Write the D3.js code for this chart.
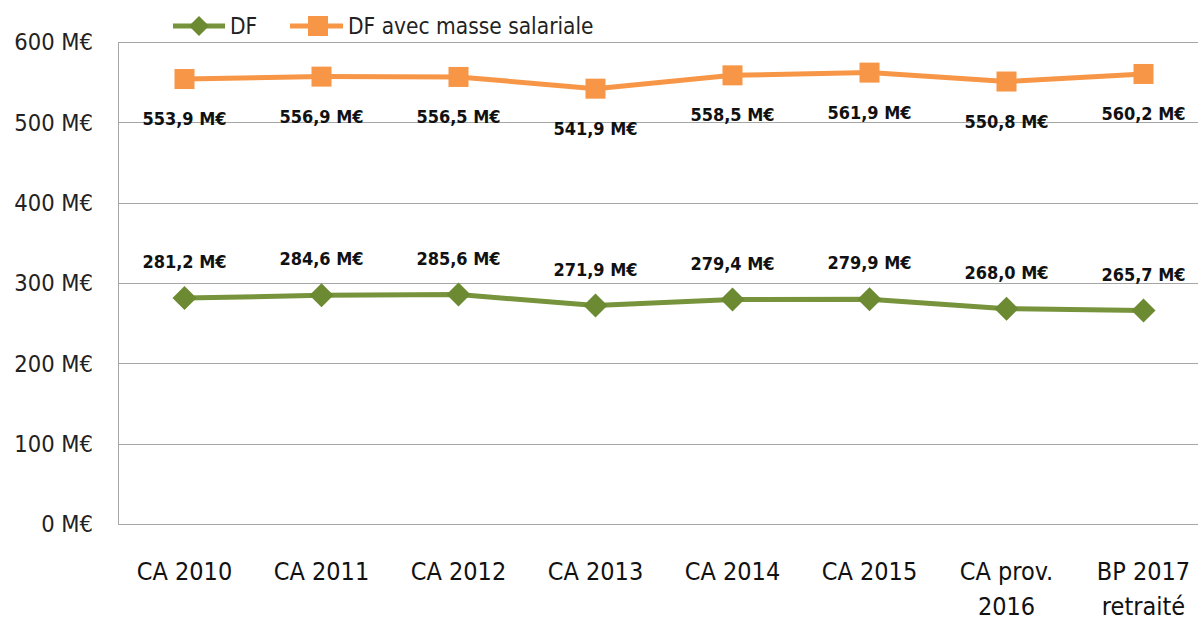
<!DOCTYPE html>
<html>
  <head>
    <meta charset="utf-8" />
    <title>DF</title>
    <script src="https://d3js.org/d3.v7.min.js"></script>
    <style>
      body {
        margin: 0;
        background: #fff;
      }
      svg {
        font-family: "Liberation Sans Narrow", "DejaVu Sans Condensed", sans-serif;
      }
      .grid line {
        stroke: #a6a6a6;
        stroke-width: 1;
        shape-rendering: crispEdges;
      }
      .grid path {
        display: none;
      }
    </style>
  </head>
  <body>
    <div id="chart"></div>
    <script>
      //categories and values
      const categories = ["CA 2010", "CA 2011", "CA 2012", "CA 2013", "CA 2014", "CA 2015", "CA prov.|2016", "BP 2017|retraité"];
      const dfValues = [281.2, 284.6, 285.6, 271.9, 279.4, 279.9, 268.0, 265.7];
      const masseValues = [553.9, 556.9, 556.5, 541.9, 558.5, 561.9, 550.8, 560.2];
      const yTicks = [0, 100, 200, 300, 400, 500, 600];

      const width = 1198;
      const height = 621;
      const green = "#77933c";
      const greenDark = "#6b8a31";
      const orange = "#f79646";

      const fmt = (v) => v.toFixed(1).replace(".", ",") + " M€";

      const svg = d3
        .select("#chart")
        .append("svg")
        .attr("width", width)
        .attr("height", height);

      const x = d3.scaleBand().domain(categories).range([116, 1212]);
      const y = d3.scaleLinear().domain([0, 600]).range([524, 42]);

      //horizontal gridlines
      svg
        .append("g")
        .attr("class", "grid")
        .attr("transform", "translate(118,0)")
        .call(d3.axisLeft(y).tickValues(yTicks).tickSize(-1100).tickFormat(""));

      //left axis line
      svg
        .append("line")
        .attr("x1", 118.5)
        .attr("x2", 118.5)
        .attr("y1", y(600))
        .attr("y2", y(0))
        .attr("stroke", "#a6a6a6");

      //y tick labels
      svg
        .selectAll(".ylab")
        .data(yTicks)
        .join("text")
        .attr("class", "ylab")
        .attr("x", 93)
        .attr("y", (d) => y(d))
        .attr("dy", "0.35em")
        .attr("text-anchor", "end")
        .attr("font-size", "23.5px")
        .attr("fill", "#222")
        .text((d) => d + " M€");

      //x category labels
      const xl = svg
        .selectAll(".xlab")
        .data(categories)
        .join("text")
        .attr("class", "xlab")
        .attr("text-anchor", "middle")
        .attr("font-size", "25px")
        .attr("fill", "#111");
      xl.each(function (d) {
        const parts = d.split("|");
        d3.select(this)
          .selectAll("tspan")
          .data(parts)
          .join("tspan")
          .attr("x", x(d) + x.bandwidth() / 2)
          .attr("y", (p, i) => 580 + i * 35)
          .text((p) => p);
      });

      const cx = (d, i) => x(categories[i]) + x.bandwidth() / 2;
      const line = d3
        .line()
        .x(cx)
        .y((d) => y(d));

      //orange series
      svg
        .append("path")
        .datum(masseValues)
        .attr("fill", "none")
        .attr("stroke", orange)
        .attr("stroke-width", 5)
        .attr("d", line);
      svg
        .selectAll(".sq")
        .data(masseValues)
        .join("rect")
        .attr("class", "sq")
        .attr("x", (d, i) => cx(d, i) - 10)
        .attr("y", (d) => y(d) - 10)
        .attr("width", 20)
        .attr("height", 20)
        .attr("fill", orange);
      svg
        .selectAll(".lab2")
        .data(masseValues)
        .join("text")
        .attr("class", "lab2")
        .attr("x", cx)
        .attr("y", (d) => y(d) + 46)
        .attr("text-anchor", "middle")
        .attr("font-size", "18px")
        .attr("font-weight", "bold")
        .attr("fill", "#111")
        .text(fmt);

      //green series
      svg
        .append("path")
        .datum(dfValues)
        .attr("fill", "none")
        .attr("stroke", green)
        .attr("stroke-width", 5)
        .attr("d", line);
      svg
        .selectAll(".dia")
        .data(dfValues)
        .join("path")
        .attr("class", "dia")
        .attr("transform", (d, i) => `translate(${cx(d, i)},${y(d)})`)
        .attr("d", "M0,-12L12,0L0,12L-12,0Z")
        .attr("fill", greenDark);
      svg
        .selectAll(".lab1")
        .data(dfValues)
        .join("text")
        .attr("class", "lab1")
        .attr("x", cx)
        .attr("y", (d) => y(d) - 30)
        .attr("text-anchor", "middle")
        .attr("font-size", "18px")
        .attr("font-weight", "bold")
        .attr("fill", "#111")
        .text(fmt);

      //legend
      const legend = svg.append("g").attr("transform", "translate(0,26)");
      legend.append("line").attr("x1", 173).attr("x2", 225).attr("stroke", green).attr("stroke-width", 5);
      legend.append("path").attr("transform", "translate(199,0)").attr("d", "M0,-10L10,0L0,10L-10,0Z").attr("fill", greenDark);
      legend.append("text").attr("x", 230).attr("dy", "0.35em").attr("font-size", "22.5px").attr("fill", "#222").text("DF");
      legend.append("line").attr("x1", 290).attr("x2", 343).attr("stroke", orange).attr("stroke-width", 5);
      legend.append("rect").attr("x", 308).attr("y", -10).attr("width", 20).attr("height", 20).attr("fill", orange);
      legend.append("text").attr("x", 348).attr("dy", "0.35em").attr("font-size", "22.5px").attr("fill", "#222").text("DF avec masse salariale");
    </script>
  </body>
</html>
